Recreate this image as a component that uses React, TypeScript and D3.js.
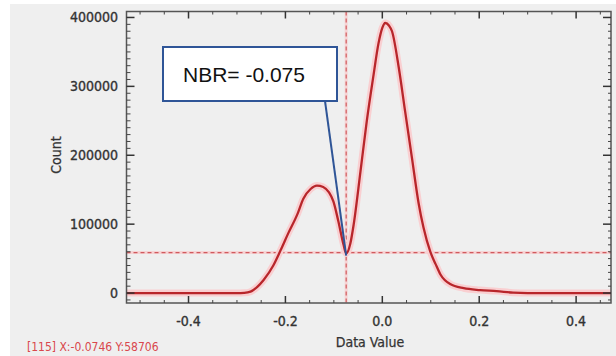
import React from "react";
import * as d3 from "d3";

const dataX = [
  -0.528, -0.4, -0.3, -0.285, -0.272, -0.258, -0.245, -0.225, -0.21, -0.194, -0.175, -0.163,
  -0.148, -0.135, -0.122, -0.11, -0.101, -0.091, -0.08, -0.0746, -0.066, -0.059, -0.045, -0.032,
  -0.018, -0.008, 0.0, 0.006, 0.014, 0.02, 0.034, 0.047, 0.061, 0.075, 0.085, 0.099, 0.11, 0.12,
  0.14, 0.168, 0.202, 0.236, 0.27, 0.3, 0.472,
];
const dataCount = [
  0, 0, 0, 300, 2000, 9000, 19000, 40000, 62000, 87000, 115000, 137000,
  151000, 156000, 154000, 146000, 133000, 105000, 70000, 57500, 72000, 100000, 177000, 250000,
  317000, 362000, 385000, 392000, 388000, 380000, 327000, 264000, 197000, 130000, 95000, 60000, 42000, 27000,
  13000, 7000, 4300, 2800, 600, 0, 0,
];
const xMajorTicks = [-0.4, -0.2, 0.0, 0.2, 0.4];
const xTickLabels = ["-0.4", "-0.2", "0.0", "0.2", "0.4"];
const yMajorTicks = [0, 100000, 200000, 300000, 400000];
const yTickLabels = ["0", "100000", "200000", "300000", "400000"];
const cursorX = -0.0746;
const cursorY = 58706;
const annotationText = "NBR= -0.075";
const statusText = "[115] X:-0.0746 Y:58706";

export default function App() {
  const W = 616, H = 356;
  const L = 126.5, R = 611, T = 11.5, B = 303;
  const x = d3.scaleLinear().domain([-0.528, 0.472]).range([L, R]);
  const y = d3.scaleLinear().domain([-14440, 408660]).range([B, T]);
  const pts: [number, number][] = dataX.map((v, i) => [v, dataCount[i]]);
  const line = d3
    .line<[number, number]>()
    .x((d) => x(d[0]))
    .y((d) => y(d[1]))
    .curve(d3.curveMonotoneX);
  const path = line(pts) || "";

  const xMinor = d3.range(-0.5, 0.47, 0.05).filter((v) => !xMajorTicks.some((m) => Math.abs(m - v) < 1e-6));
  const yMinor = d3.range(-10000, 408000, 10000).filter((v) => v % 100000 !== 0);

  const axisColor = "#555";
  const font = "'DejaVu Sans Condensed', 'DejaVu Sans', sans-serif";
  const labelFill = "#333";
  const tipX = x(cursorX);
  const tipY = y(cursorY) + 3;

  return (
    <svg width={W} height={H} style={{ position: "absolute", left: 0, top: 0 }}>
      <rect x={0} y={0} width={W} height={H} fill="#ffffff" />
      <rect x={10} y={4} width={W - 10} height={H - 4} fill="#efefef" />

      {/* crosshair */}
      <line x1={x(cursorX)} x2={x(cursorX)} y1={T} y2={B} stroke="#f6d3d4" strokeWidth={3} />
      <line x1={L} x2={R} y1={y(cursorY)} y2={y(cursorY)} stroke="#f6d3d4" strokeWidth={3} />
      <line x1={x(cursorX)} x2={x(cursorX)} y1={T} y2={B} stroke="#cf5a5e" strokeWidth={1.2} strokeDasharray="4,3" />
      <line x1={L} x2={R} y1={y(cursorY)} y2={y(cursorY)} stroke="#cf5a5e" strokeWidth={1.2} strokeDasharray="4,3" />

      {/* data line */}
      <path d={path} fill="none" stroke="#f9cfd1" strokeWidth={7} strokeLinejoin="round" />
      <path d={path} fill="none" stroke="#b8262b" strokeWidth={2.3} strokeLinejoin="round" />

      {/* frame */}
      <rect x={L} y={T} width={R - L} height={B - T} fill="none" stroke={axisColor} strokeWidth={1.5} />

      {/* x ticks */}
      {xMajorTicks.map((v) => (
        <g key={"xm" + v}>
          <line x1={x(v)} x2={x(v)} y1={B} y2={B - 7} stroke="#333" strokeWidth={1.5} />
          <line x1={x(v)} x2={x(v)} y1={T} y2={T + 7} stroke="#333" strokeWidth={1.5} />
        </g>
      ))}
      {xMinor.map((v) => (
        <g key={"xn" + v}>
          <line x1={x(v)} x2={x(v)} y1={B} y2={B - 3} stroke="#444" strokeWidth={1} />
          <line x1={x(v)} x2={x(v)} y1={T} y2={T + 3} stroke="#444" strokeWidth={1} />
        </g>
      ))}
      {/* y ticks */}
      {yMajorTicks.map((v) => (
        <g key={"ym" + v}>
          <line x1={L} x2={L + 8} y1={y(v)} y2={y(v)} stroke="#333" strokeWidth={1.5} />
          <line x1={R} x2={R - 8} y1={y(v)} y2={y(v)} stroke="#333" strokeWidth={1.5} />
        </g>
      ))}
      {yMinor.map((v) => (
        <g key={"yn" + v}>
          <line x1={L} x2={L + 4} y1={y(v)} y2={y(v)} stroke="#444" strokeWidth={1} />
          <line x1={R} x2={R - 3} y1={y(v)} y2={y(v)} stroke="#444" strokeWidth={1} />
        </g>
      ))}

      {/* tick labels */}
      {xMajorTicks.map((v, i) => (
        <text key={"xl" + v} x={x(v)} y={326} textAnchor="middle" fontFamily={font} fontSize={14}
          fill={labelFill} stroke={labelFill} strokeWidth={0.35}>
          {xTickLabels[i]}
        </text>
      ))}
      {yMajorTicks.map((v, i) => (
        <text key={"yl" + v} x={118} y={y(v) + 5} textAnchor="end" fontFamily={font} fontSize={14}
          fill={labelFill} stroke={labelFill} strokeWidth={0.35}>
          {yTickLabels[i]}
        </text>
      ))}

      {/* axis titles */}
      <text x={370} y={347} textAnchor="middle" fontFamily={font} fontSize={14} fill={labelFill}
        stroke={labelFill} strokeWidth={0.25}>
        Data Value
      </text>
      <text
        transform="translate(61,155) rotate(-90)"
        textAnchor="middle"
        fontFamily={font}
        fontSize={14}
        fill={labelFill}
        stroke={labelFill}
        strokeWidth={0.25}
      >
        Count
      </text>

      {/* status text */}
      <text x={27} y={351} fontFamily={font} fontSize={12} fill="#d9474c">
        {statusText}
      </text>

      {/* annotation */}
      <line x1={325} y1={101} x2={tipX} y2={tipY} stroke="#2f5597" strokeWidth={2} />
      <rect x={163} y={47} width={174} height={54} fill="#ffffff" stroke="#2f5597" strokeWidth={2} />
      <text x={183} y={82} fontFamily="'Liberation Sans', Arial, sans-serif" fontSize={21} fill="#111">
        {annotationText}
      </text>
    </svg>
  );
}
